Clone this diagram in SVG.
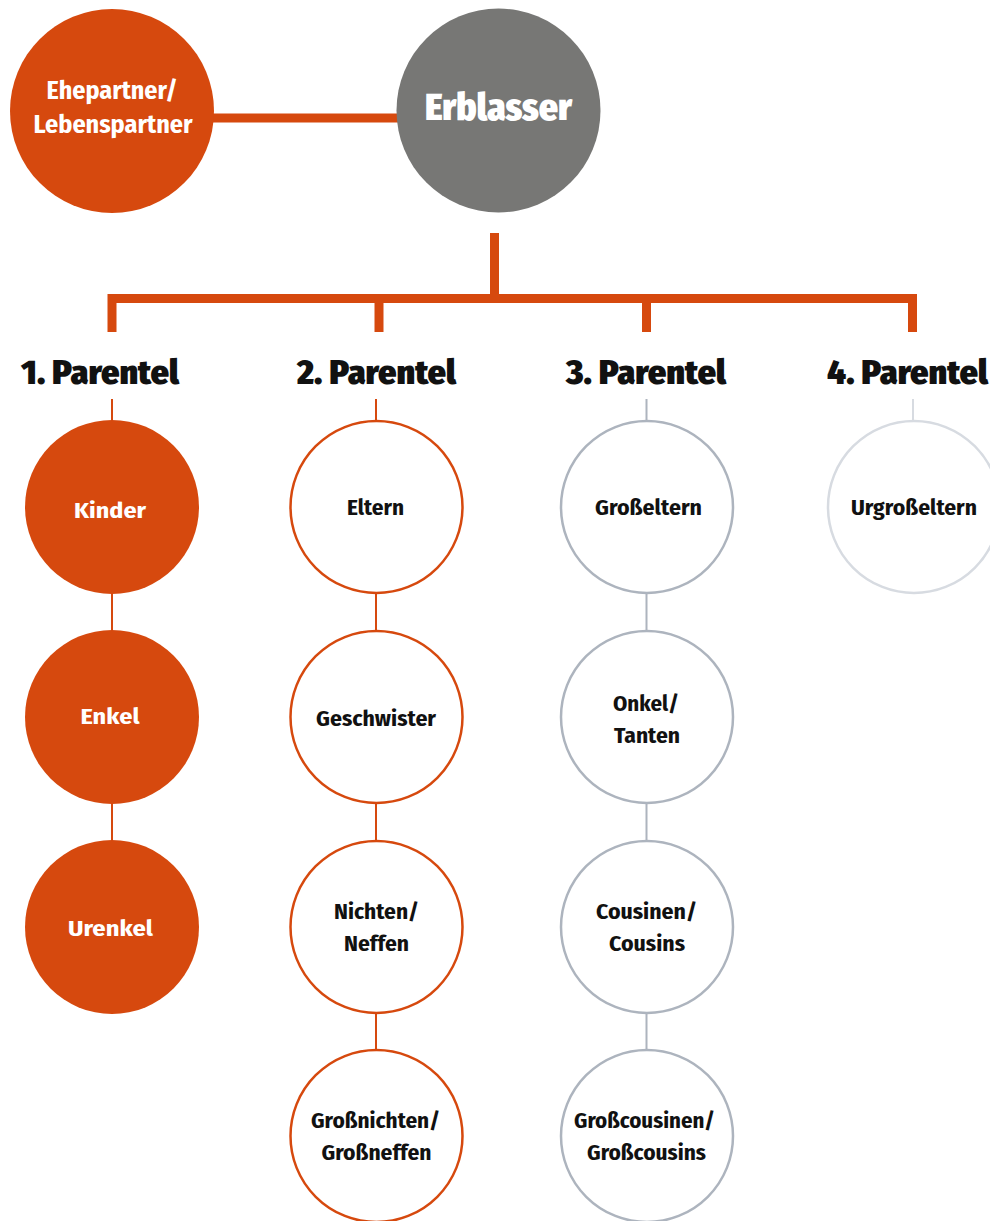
<svg xmlns="http://www.w3.org/2000/svg" width="990" height="1221" viewBox="0 0 990 1221">
<style>
text{font-family:"Fira Sans Condensed","DejaVu Sans Condensed","Liberation Sans",sans-serif;font-weight:bold;text-anchor:middle}
.lbl{font-size:22px;fill:#111}
.wl{font-size:22px;fill:#fff}
.par{font-size:34px;fill:#111;font-weight:900}
.fill{fill:#D6490E}
.o{fill:#fff;stroke:#D6490E;stroke-width:2.5}
.g{fill:#fff;stroke:#ADB4BE;stroke-width:2.5}
.l{fill:#fff;stroke:#D7DBE1;stroke-width:2.5}
.thick{stroke:#D6490E;stroke-width:9;fill:none}
.co{stroke:#D6490E;stroke-width:2}
.cg{stroke:#ADB4BE;stroke-width:2}
.cl{stroke:#D7DBE1;stroke-width:2}
</style>
<rect width="990" height="1221" fill="#fff"/>
<g id="connectors">
<line class="thick" x1="212" y1="118" x2="400" y2="118"/>
<line class="thick" x1="494.5" y1="233" x2="494.5" y2="298"/>
<polyline class="thick" points="112,332 112,298.5 912.5,298.5 912.5,332"/>
<line class="thick" x1="379" y1="298" x2="379" y2="332"/>
<line class="thick" x1="646.5" y1="298" x2="646.5" y2="332"/>
<line class="co" x1="112" y1="399" x2="112" y2="1014"/>
<line class="co" x1="376" y1="399" x2="376" y2="1050"/>
<line class="cg" x1="646.5" y1="399" x2="646.5" y2="1050"/>
<line class="cl" x1="913" y1="399" x2="913" y2="421"/>
</g>
<g id="ehepartner">
<circle class="fill" cx="112" cy="111" r="102"/>
<text class="wl" x="112" y="99" font-size="26" style="font-size:26px" textLength="131" lengthAdjust="spacingAndGlyphs">Ehepartner/</text>
<text class="wl" x="113" y="133" style="font-size:26px" textLength="159" lengthAdjust="spacingAndGlyphs">Lebenspartner</text>
</g>
<g id="erblasser">
<circle cx="498.5" cy="110.5" r="102" fill="#777775"/>
<text x="498.5" y="120" style="font-size:37px;fill:#fff;font-weight:900" textLength="147" lengthAdjust="spacingAndGlyphs">Erblasser</text>
</g>
<g id="parentel-labels">
<text class="par" x="100" y="384" textLength="158" lengthAdjust="spacingAndGlyphs">1. Parentel</text>
<text class="par" x="376.5" y="384" textLength="159" lengthAdjust="spacingAndGlyphs">2. Parentel</text>
<text class="par" x="646" y="384" textLength="160" lengthAdjust="spacingAndGlyphs">3. Parentel</text>
<text class="par" x="907.5" y="384" textLength="161" lengthAdjust="spacingAndGlyphs">4. Parentel</text>
</g>
<g id="kinder"><circle class="fill" cx="112" cy="507" r="87"/><text class="wl" x="110" y="518" textLength="72" lengthAdjust="spacingAndGlyphs">Kinder</text></g>
<g id="enkel"><circle class="fill" cx="112" cy="717" r="87"/><text class="wl" x="110" y="724" textLength="59" lengthAdjust="spacingAndGlyphs">Enkel</text></g>
<g id="urenkel"><circle class="fill" cx="112" cy="927" r="87"/><text class="wl" x="110.5" y="936" textLength="85" lengthAdjust="spacingAndGlyphs">Urenkel</text></g>
<g id="eltern"><circle class="o" cx="376.5" cy="507" r="86"/><text class="lbl" x="375.5" y="515" textLength="57" lengthAdjust="spacingAndGlyphs">Eltern</text></g>
<g id="geschwister"><circle class="o" cx="376.5" cy="717" r="86"/><text class="lbl" x="376" y="726" textLength="120" lengthAdjust="spacingAndGlyphs">Geschwister</text></g>
<g id="nichten"><circle class="o" cx="376.5" cy="927" r="86"/><text class="lbl" x="376.5" y="919" textLength="85" lengthAdjust="spacingAndGlyphs">Nichten/</text><text class="lbl" x="376.5" y="951" textLength="65" lengthAdjust="spacingAndGlyphs">Neffen</text></g>
<g id="grossnichten"><circle class="o" cx="376.5" cy="1136" r="86"/><text class="lbl" x="375.5" y="1128" textLength="129" lengthAdjust="spacingAndGlyphs">Großnichten/</text><text class="lbl" x="376.5" y="1160" textLength="110" lengthAdjust="spacingAndGlyphs">Großneffen</text></g>
<g id="grosseltern"><circle class="g" cx="647" cy="507" r="86"/><text class="lbl" x="648.5" y="515" textLength="107" lengthAdjust="spacingAndGlyphs">Großeltern</text></g>
<g id="onkel"><circle class="g" cx="647" cy="717" r="86"/><text class="lbl" x="646" y="711" textLength="66" lengthAdjust="spacingAndGlyphs">Onkel/</text><text class="lbl" x="647" y="743" textLength="66" lengthAdjust="spacingAndGlyphs">Tanten</text></g>
<g id="cousinen"><circle class="g" cx="647" cy="927" r="86"/><text class="lbl" x="646.5" y="919" textLength="101" lengthAdjust="spacingAndGlyphs">Cousinen/</text><text class="lbl" x="647" y="951" textLength="76" lengthAdjust="spacingAndGlyphs">Cousins</text></g>
<g id="grosscousinen"><circle class="g" cx="647" cy="1136" r="86"/><text class="lbl" x="644.5" y="1128" textLength="141" lengthAdjust="spacingAndGlyphs">Großcousinen/</text><text class="lbl" x="646.5" y="1160" textLength="119" lengthAdjust="spacingAndGlyphs">Großcousins</text></g>
<g id="urgrosseltern"><circle class="l" cx="914" cy="507" r="86"/><text class="lbl" x="914" y="515" textLength="126" lengthAdjust="spacingAndGlyphs">Urgroßeltern</text></g>
</svg>
